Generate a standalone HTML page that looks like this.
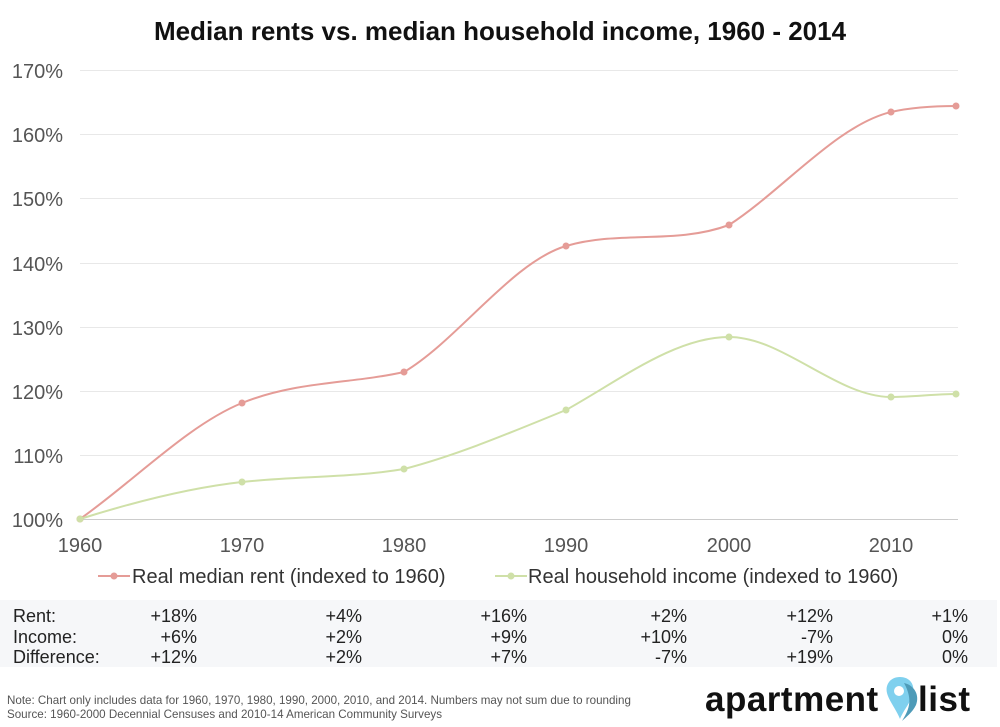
<!DOCTYPE html>
<html><head><style>
body{margin:0;width:1000px;height:727px;background:#fff;font-family:"Liberation Sans",sans-serif;overflow:hidden;position:relative}
.t{position:absolute;white-space:nowrap}
table{position:absolute;left:0;top:600px;width:997px;height:67px;background:#f6f7f9;border-collapse:collapse;font-size:18px;color:#222}
td{padding:0;height:20px;line-height:20px;text-align:right}
td:first-child{text-align:left;padding-left:13px}
</style></head><body>
<div class="t" style="left:0;width:1000px;text-align:center;top:16px;font-size:26px;font-weight:bold;color:#111">Median rents vs. median household income, 1960 - 2014</div>
<svg width="1000" height="600" style="position:absolute;left:0;top:0">
<g stroke="#e8e8e8" stroke-width="1">
<line x1="80" x2="958" y1="70.5" y2="70.5"/><line x1="80" x2="958" y1="134.5" y2="134.5"/><line x1="80" x2="958" y1="198.5" y2="198.5"/><line x1="80" x2="958" y1="263.5" y2="263.5"/><line x1="80" x2="958" y1="327.5" y2="327.5"/><line x1="80" x2="958" y1="391.5" y2="391.5"/><line x1="80" x2="958" y1="455.5" y2="455.5"/>
</g>
<line x1="80" x2="958" y1="519.5" y2="519.5" stroke="#ccc"/>
<g font-size="20" fill="#555" text-anchor="end">
<text x="63" y="78">170%</text><text x="63" y="142">160%</text><text x="63" y="206">150%</text><text x="63" y="271">140%</text><text x="63" y="335">130%</text><text x="63" y="399">120%</text><text x="63" y="463">110%</text><text x="63" y="527">100%</text>
</g>
<g font-size="20" fill="#555" text-anchor="middle">
<text x="80" y="552">1960</text><text x="242" y="552">1970</text><text x="404" y="552">1980</text><text x="566" y="552">1990</text><text x="729" y="552">2000</text><text x="891" y="552">2010</text>
</g>
<path d="M80,519 C134,481 188,425 242,403 C296,381 350,384 404,372 C458,340 512,262 566,246 C620,230 675,245 729,225 C783,190 837,125 891,112 C913,107 934,106 956,106" fill="none" stroke="#e59c97" stroke-width="2"/>
<path d="M80,519 C134,502 188,488 242,482 C296,476 350,478 404,469 C458,455 512,432 566,410 C620,380 675,337 729,337 C783,337 837,397 891,397 C913,397 934,394 956,394" fill="none" stroke="#cfe0a8" stroke-width="2"/>
<g fill="#e59c97"><circle cx="80" cy="519" r="3.5"/><circle cx="242" cy="403" r="3.5"/><circle cx="404" cy="372" r="3.5"/><circle cx="566" cy="246" r="3.5"/><circle cx="729" cy="225" r="3.5"/><circle cx="891" cy="112" r="3.5"/><circle cx="956" cy="106" r="3.5"/></g>
<g fill="#cfe0a8"><circle cx="80" cy="519" r="3.5"/><circle cx="242" cy="482" r="3.5"/><circle cx="404" cy="469" r="3.5"/><circle cx="566" cy="410" r="3.5"/><circle cx="729" cy="337" r="3.5"/><circle cx="891" cy="397" r="3.5"/><circle cx="956" cy="394" r="3.5"/></g>
<line x1="98" x2="130" y1="576" y2="576" stroke="#e59c97" stroke-width="2"/><circle cx="114" cy="576" r="3.5" fill="#e59c97"/>
<text x="132" y="583" font-size="20" fill="#333">Real median rent (indexed to 1960)</text>
<line x1="495" x2="527" y1="576" y2="576" stroke="#cfe0a8" stroke-width="2"/><circle cx="511" cy="576" r="3.5" fill="#cfe0a8"/>
<text x="528" y="583" font-size="20" fill="#333">Real household income (indexed to 1960)</text>
</svg>
<table>
<colgroup><col style="width:110px"><col style="width:87px"><col style="width:165px"><col style="width:165px"><col style="width:160px"><col style="width:146px"><col style="width:135px"><col></colgroup>
<tr><td style="padding-top:6px">Rent:</td><td style="padding-top:6px">+18%</td><td style="padding-top:6px">+4%</td><td style="padding-top:6px">+16%</td><td style="padding-top:6px">+2%</td><td style="padding-top:6px">+12%</td><td style="padding-top:6px">+1%</td><td></td></tr>
<tr><td>Income:</td><td>+6%</td><td>+2%</td><td>+9%</td><td>+10%</td><td>-7%</td><td>0%</td><td></td></tr>
<tr><td>Difference:</td><td>+12%</td><td>+2%</td><td>+7%</td><td>-7%</td><td>+19%</td><td>0%</td><td></td></tr>
</table>
<div class="t" style="left:7px;top:694px;font-size:11.6px;color:#555;line-height:14px">Note: Chart only includes data for 1960, 1970, 1980, 1990, 2000, 2010, and 2014. Numbers may not sum due to rounding<br>Source: 1960-2000 Decennial Censuses and 2010-14 American Community Surveys</div>
<div class="t" style="left:705px;top:680px;font-size:35px;font-weight:bold;color:#111;letter-spacing:0.5px">apartment</div>
<svg width="40" height="50" style="position:absolute;left:882px;top:675px"><path d="M18,2 C8,2 3,10 5,18 C7,26 14,34 18,44 C22,34 30,26 31,18 C33,10 28,2 18,2Z" fill="#7fd0ee"/><path d="M22,8 C32,10 38,20 34,30 C30,38 24,42 20,46 C26,36 32,26 22,8Z" fill="#4e9bb8"/><circle cx="17" cy="16" r="5" fill="#fff"/></svg>
<div class="t" style="left:918px;top:680px;font-size:35px;font-weight:bold;color:#111;letter-spacing:0.5px">list</div>
</body></html>
